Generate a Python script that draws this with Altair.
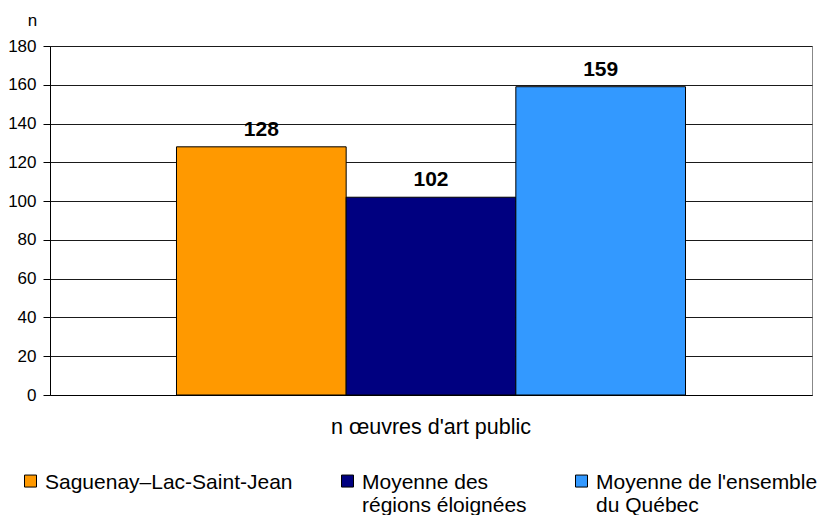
import altair as alt
import pandas as pd

category = ["n œuvres d'art public"]
series = ["Saguenay–Lac-Saint-Jean", "Moyenne des\nrégions éloignées", "Moyenne de l'ensemble\ndu Québec"]
values = [128, 102, 159]
colors = ["#FF9900", "#000080", "#3399FF"]
y_ticks = [0, 20, 40, 60, 80, 100, 120, 140, 160, 180]

df = pd.DataFrame({
    "cat": category * len(series),
    "series": series,
    "value": values,
})

FONT = "Liberation Sans"

x_enc = alt.X("cat:N", title=None,
              scale=alt.Scale(paddingOuter=0.2485, paddingInner=0),
              axis=alt.Axis(labelAngle=0, labelFontSize=21.5, labelColor="black",
                            labelPadding=38, labelBaseline="alphabetic", labelLimit=500,
                            ticks=False, tickSize=0, domainColor="black",
                            domainWidth=1, grid=False))
xo_enc = alt.XOffset("series:N", sort=series,
                     scale=alt.Scale(paddingInner=0, paddingOuter=0))
y_axis = alt.Axis(values=y_ticks, tickCount=10, title="n", titleAngle=0,
                  titleX=-18, titleY=-21, titleAlign="center",
                  titleBaseline="alphabetic", titleFontSize=17,
                  titleFontWeight="normal", titleColor="black",
                  labelFontSize=17, labelColor="black", labelPadding=7,
                  labelOverlap=False, labelBound=False, labelFlush=False,
                  tickSize=7, tickColor="black", domainColor="black",
                  grid=True, gridColor="#1a1a1a", gridOpacity=1, gridWidth=1)
y_scale = alt.Scale(domain=[0, 180], nice=False)

bars = alt.Chart(df).mark_bar(stroke="black", strokeWidth=1).encode(
    x=x_enc,
    xOffset=xo_enc,
    y=alt.Y("value:Q", scale=y_scale, axis=y_axis),
    color=alt.Color("series:N", sort=series,
                    scale=alt.Scale(domain=series, range=colors),
                    legend=alt.Legend(title=None, orient="none", legendX=-30, legendY=415,
                                      direction="horizontal", columns=3,
                                      columnPadding=44,
                                      symbolType="M-1,0.55H1V2.55H-1Z",
                                      symbolSize=144, symbolStrokeColor="black",
                                      symbolStrokeWidth=1, symbolOpacity=1,
                                      labelFontSize=21, labelColor="black",
                                      labelOffset=4, labelLimit=400,
                                      labelBaseline="top",
                                      labelExpr="indexof(datum.label, '\\n') < 0 ? [datum.label, ''] : split(datum.label, '\\n')",
                                      padding=0)),
)

labels = alt.Chart(df).mark_text(fontSize=21, fontWeight="bold", color="black",
                                 baseline="alphabetic", dy=-11).encode(
    x=alt.X("cat:N", scale=alt.Scale(paddingOuter=0.2485, paddingInner=0)),
    xOffset=alt.XOffset("series:N", sort=series),
    y=alt.Y("value:Q", scale=y_scale, axis=y_axis),
    text=alt.Text("value:Q"),
)

chart = alt.layer(bars, labels).properties(
    width=762, height=349,
    autosize=alt.AutoSizeParams(type="none"),
    padding={"left": 42, "top": 38, "right": 5, "bottom": 120},
).configure(font=FONT).configure_view(stroke="#888888", strokeWidth=1)

chart.save("out.html", embed_options={"renderer": "svg", "actions": False})
